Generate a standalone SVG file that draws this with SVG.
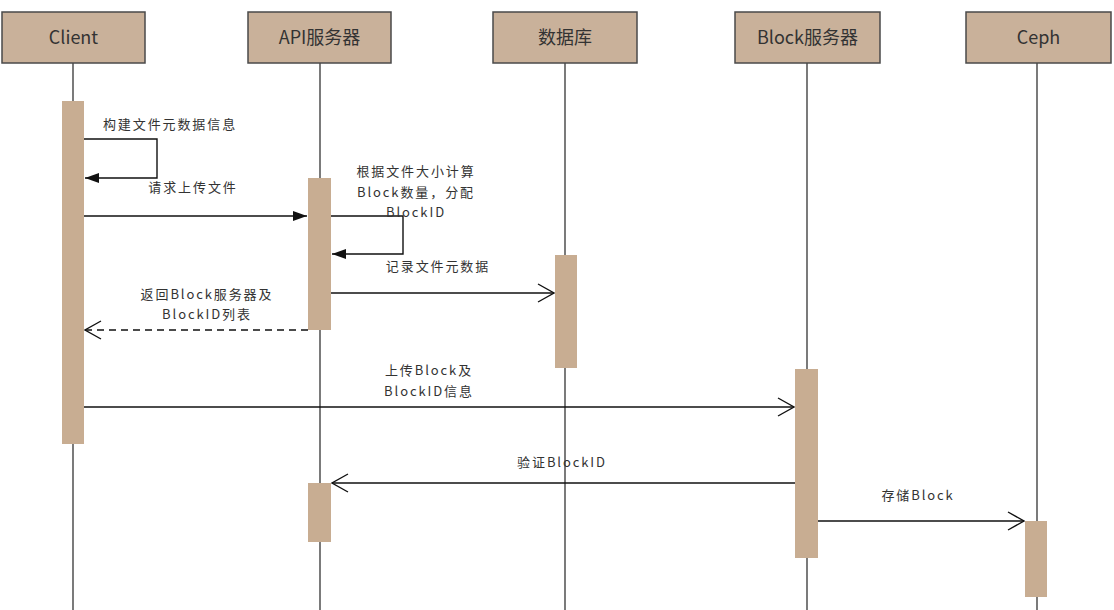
<svg xmlns="http://www.w3.org/2000/svg" width="1114" height="610" viewBox="0 0 1114 610">
<defs>
<style>
.box{fill:#c9b19a;stroke:#4a4a4a;stroke-width:1.5}
.title{font-family:"Noto Sans CJK SC","Noto Sans",sans-serif;font-size:18px;fill:#333;text-anchor:middle;dominant-baseline:central}
.life{stroke:#333;stroke-width:1.3}
.act{fill:#c8ad92}
.msg{stroke:#111;stroke-width:1.4;fill:none}
.dash{stroke-dasharray:7,5}
.lbl{font-family:"Noto Sans CJK SC","Noto Sans",sans-serif;font-size:13px;fill:#333;letter-spacing:1.9px;text-anchor:middle;dominant-baseline:central}
</style>
<marker id="filled" viewBox="0 0 14 10" refX="14" refY="5" markerWidth="14" markerHeight="10" markerUnits="userSpaceOnUse" orient="auto">
<path d="M0,0 L14,5 L0,10 Z" fill="#111"/>
</marker>
<marker id="open" viewBox="0 0 18 20" refX="17" refY="10" markerWidth="18" markerHeight="20" markerUnits="userSpaceOnUse" orient="auto">
<path d="M1,1 L17,10 L1,19" fill="none" stroke="#111" stroke-width="1.4"/>
</marker>
</defs>
<rect width="1114" height="610" fill="#fff"/>
<g id="lifelines">
<line class="life" x1="73" y1="63" x2="73" y2="610"/>
<line class="life" x1="320" y1="63" x2="320" y2="610"/>
<line class="life" x1="565" y1="63" x2="565" y2="610"/>
<line class="life" x1="807" y1="63" x2="807" y2="610"/>
<line class="life" x1="1037" y1="63" x2="1037" y2="610"/>
</g>
<g id="client"><rect class="box" x="2" y="12" width="143" height="51"/><text class="title" x="73.5" y="36">Client</text></g>
<g id="api"><rect class="box" x="248" y="12" width="143" height="51"/><text class="title" x="319.5" y="36">API服务器</text></g>
<g id="db"><rect class="box" x="493" y="12" width="144" height="51"/><text class="title" x="565" y="36">数据库</text></g>
<g id="block"><rect class="box" x="735" y="12" width="145" height="51"/><text class="title" x="807.5" y="36">Block服务器</text></g>
<g id="ceph"><rect class="box" x="966" y="12" width="145" height="51"/><text class="title" x="1038.5" y="36">Ceph</text></g>
<g id="activations">
<rect class="act" x="62" y="101" width="22" height="343"/>
<rect class="act" x="308" y="178" width="23" height="152"/>
<rect class="act" x="555" y="255" width="22" height="113"/>
<rect class="act" x="795" y="369" width="23" height="189"/>
<rect class="act" x="308" y="483" width="23" height="59"/>
<rect class="act" x="1025" y="521" width="22" height="76"/>
</g>
<g id="connectors">
<path class="msg" d="M84,139 H157 V178 H85" marker-end="url(#filled)"/>
<path class="msg" d="M84,216 H307" marker-end="url(#filled)"/>
<path class="msg" d="M331,216 H403 V254 H332" marker-end="url(#filled)"/>
<path class="msg" d="M331,293 H554" marker-end="url(#open)"/>
<path class="msg dash" d="M308,330 H85" marker-end="url(#open)"/>
<path class="msg" d="M84,407 H794" marker-end="url(#open)"/>
<path class="msg" d="M795,483 H332" marker-end="url(#open)"/>
<path class="msg" d="M818,521 H1024" marker-end="url(#open)"/>
</g>
<g id="labels">
<text class="lbl" x="170" y="123">构建文件元数据信息</text>
<text class="lbl" x="193" y="186">请求上传文件</text>
<text class="lbl" x="416" y="170">根据文件大小计算</text>
<text class="lbl" x="416" y="191">Block数量，分配</text>
<text class="lbl" x="416" y="211">BlockID</text>
<text class="lbl" x="438" y="265">记录文件元数据</text>
<text class="lbl" x="207" y="293">返回Block服务器及</text>
<text class="lbl" x="207" y="313">BlockID列表</text>
<text class="lbl" x="429" y="369">上传Block及</text>
<text class="lbl" x="429" y="390">BlockID信息</text>
<text class="lbl" x="562" y="461">验证BlockID</text>
<text class="lbl" x="918" y="494">存储Block</text>
</g>
</svg>
